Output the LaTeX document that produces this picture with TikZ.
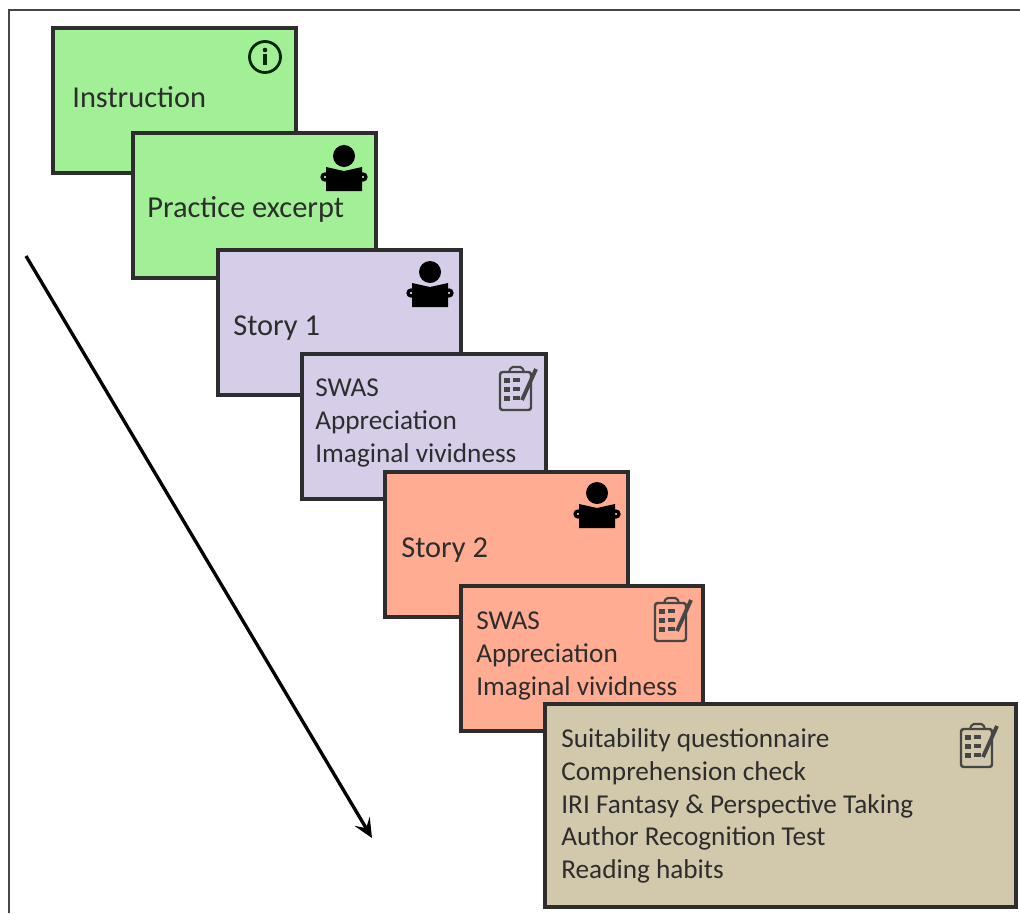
\documentclass[tikz,border=0pt]{standalone}
\usepackage{fontspec}
\setmainfont{Carlito}
\usetikzlibrary{arrows.meta}
\definecolor{vert}{RGB}{162,240,150}
\definecolor{lila}{RGB}{214,206,233}
\definecolor{saumon}{RGB}{255,172,146}
\definecolor{sable}{RGB}{210,200,172}
\definecolor{encre}{RGB}{45,45,45}
\definecolor{gris}{RGB}{70,70,70}
\tikzset{
  etape/.style={draw=encre,line width=1.8pt,anchor=north west,inner sep=0pt,outer sep=0pt},
  texte/.style={anchor=west,inner sep=0pt,text=encre,font=\fontsize{15.5}{18.7}\selectfont,align=left},
  titre/.style={anchor=west,inner sep=0pt,text=encre,font=\fontsize{17.3}{20}\selectfont},
  lecteur/.pic={
    \fill[black] (0,-12) circle (11);
    \fill[black] (-18,-1) -- (0,3) -- (18,-1) -- (18,23) -- (-18,23) -- cycle;
    \draw[black,line width=1.8pt] (-19,9) circle (3);
    \draw[black,line width=1.8pt] (19,9) circle (3);
  },
  fiche/.pic={
    \draw[gris,line width=1.4pt,rounded corners=1.5pt] (-17,-16) rectangle (14,22);
    \draw[gris,line width=1.2pt,rounded corners=1pt] (-8,-16) -- (-6,-21) -- (5,-21) -- (7,-16);
    \foreach \y in {-8,1,10}{
      \fill[gris] (-13,\y-2.5) rectangle (-7,\y+2.5);
      \fill[gris] (-4,\y-2) rectangle (3,\y+2);
    }
    \draw[gris,line width=2.2pt] (19,-19) -- (5,12);
  },
  info/.pic={
    \draw[black!85!green,line width=1.6pt] (0,0) circle (15.5);
    \fill[black!85!green] (0,-7) circle (2.3);
    \fill[black!85!green] (-2,-3) rectangle (2,8);
  }
}
\begin{document}
\begin{tikzpicture}[x=0.02cm,y=-0.02cm]
\useasboundingbox (0,0) rectangle (1020,913);
\fill[white] (0,0) rectangle (1020,913);
% cadre
\draw[gris,line width=0.9pt] (9,913) -- (9,10) -- (1020,10);
% fleche du temps
\coordinate (debut) at (26,256);
\coordinate (fin) at (372,838);
\draw[line width=1.9pt,->,>={Stealth[length=11pt,width=10pt,inset=4.5pt]}] (debut) -- (fin);
% etapes
\node[etape,fill=vert,minimum width=4.86cm,minimum height=2.9cm] (instruction) at (53,28) {};
\node[titre] (t1) at (72,97) {Instruction};
\pic at (265,57) {info};
\node[etape,fill=vert,minimum width=4.86cm,minimum height=2.9cm] (pratique) at (133,133) {};
\node[titre] (t2) at (147,209) {Practice excerpt};
\pic at (344,168) {lecteur};
\node[etape,fill=lila,minimum width=4.86cm,minimum height=2.9cm] (recit1) at (218,250) {};
\node[titre] (t3) at (233,328) {Story 1};
\pic at (430,284) {lecteur};
\node[etape,fill=lila,minimum width=4.88cm,minimum height=2.9cm] (mesure1) at (302,354) {};
\node[texte] (t4) at (315,423) {SWAS\\Appreciation\\Imaginal vividness};
\pic at (517,388) {fiche};
\node[etape,fill=saumon,minimum width=4.86cm,minimum height=2.9cm] (recit2) at (385,472) {};
\node[titre] (t5) at (401,550) {Story 2};
\pic at (597,505) {lecteur};
\node[etape,fill=saumon,minimum width=4.84cm,minimum height=2.9cm] (mesure2) at (461,586) {};
\node[texte] (t6) at (476,656) {SWAS\\Appreciation\\Imaginal vividness};
\pic at (672,619) {fiche};
\node[etape,fill=sable,minimum width=9.42cm,minimum height=4.06cm] (final) at (545,704) {};
\node[texte] (t7) at (561,806) {Suitability questionnaire\\Comprehension check\\IRI Fantasy \& Perspective Taking\\Author Recognition Test\\Reading habits};
\pic at (978,745) {fiche};
\end{tikzpicture}
\end{document}
